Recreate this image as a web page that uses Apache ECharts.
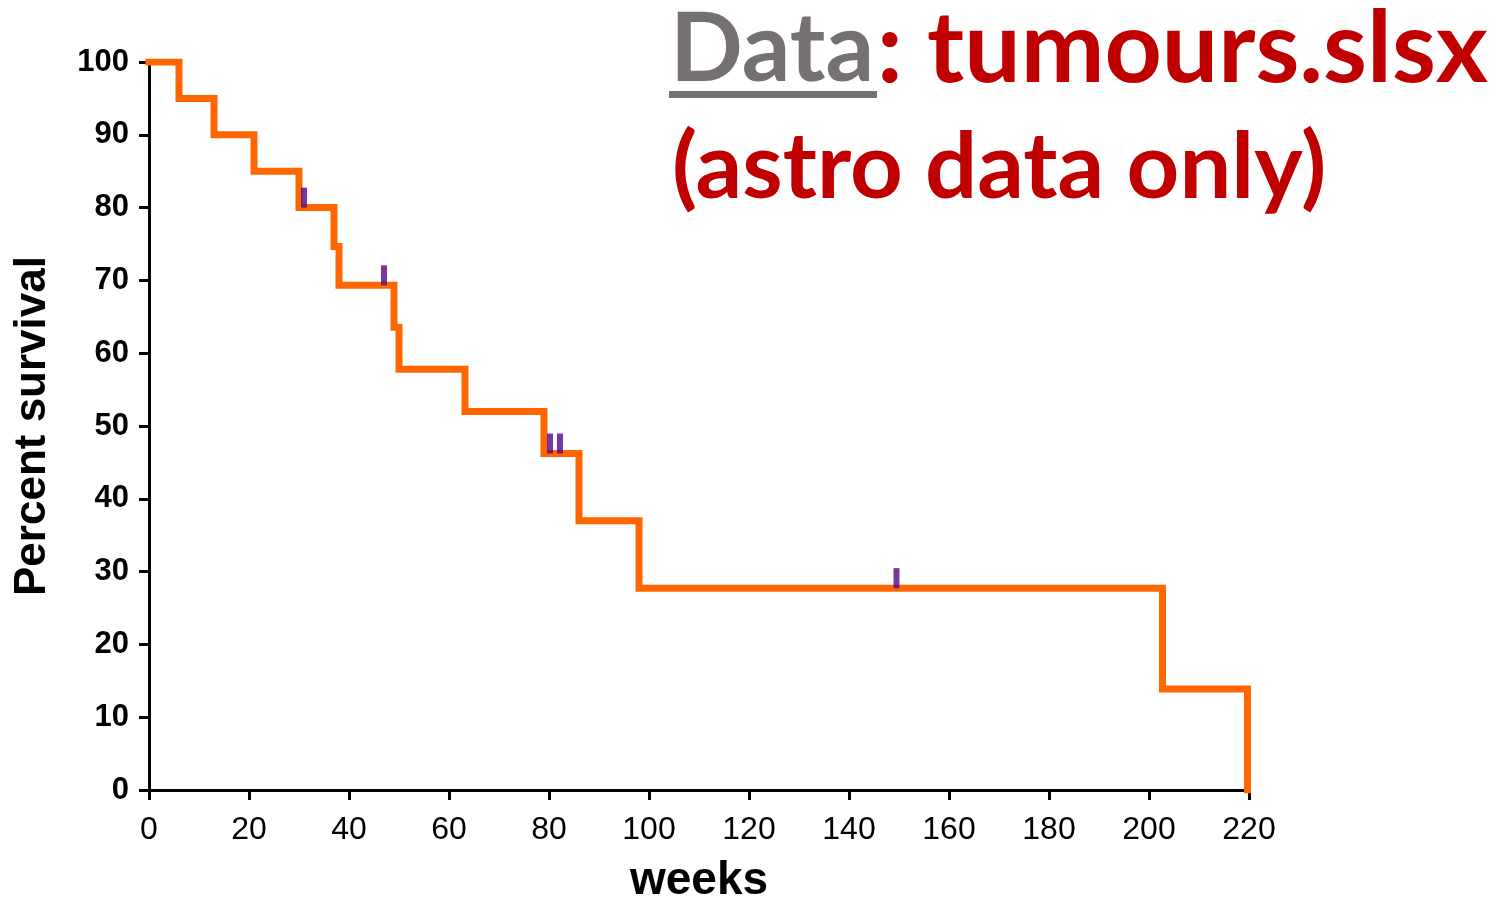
<!DOCTYPE html>
<html>
<head>
<meta charset="utf-8">
<script src="https://cdn.jsdelivr.net/npm/echarts@6/dist/echarts.min.js"></script>
<style>html,body{margin:0;padding:0;background:#fff}#c{width:1508px;height:897px}</style>
</head>
<body>
<div id="c"></div>
<script>
// Kaplan-Meier step points [weeks, percent survival]
const weeks    = [0, 6, 13, 21, 30, 37, 38, 49, 50, 63.2, 79, 86, 98, 202.7, 219.7];
const survival = [100, 95, 90, 85, 80, 74.67, 69.33, 63.56, 57.78, 52.0, 46.22, 36.98, 27.73, 13.87, 0];
// censored observations
const censorWeeks = [31, 47, 80.2, 82.2, 149.5];
const censorSurv  = [80, 69.33, 46.22, 46.22, 27.73];
const xTicks = [0, 20, 40, 60, 80, 100, 120, 140, 160, 180, 200, 220];
const yTicks = [0, 10, 20, 30, 40, 50, 60, 70, 80, 90, 100];

const chart = echarts.init(document.getElementById('c'), null, {renderer: 'canvas'});
const axisFont = 'Liberation Sans, Arial, sans-serif';
chart.setOption({
  animation: false,
  backgroundColor: '#fff',
  grid: {left: 149, right: 259, top: 62, bottom: 107, containLabel: false, outerBoundsMode: 'none'},
  xAxis: {
    type: 'value', min: xTicks[0], max: xTicks[xTicks.length - 1], interval: 20,
    name: 'weeks', nameLocation: 'middle', nameGap: 68,
    nameTextStyle: {fontFamily: axisFont, fontSize: 46, fontWeight: 'bold', color: '#000'},
    axisLine: {lineStyle: {color: '#000', width: 3}},
    axisTick: {show: true, length: 10, lineStyle: {color: '#000', width: 3}},
    axisLabel: {fontFamily: axisFont, fontSize: 32, color: '#000', margin: 24},
    splitLine: {show: false}
  },
  yAxis: {
    type: 'value', min: yTicks[0], max: yTicks[yTicks.length - 1], interval: 10,
    name: 'Percent survival', nameLocation: 'middle', nameGap: 94, nameRotate: 90,
    nameTextStyle: {fontFamily: axisFont, fontSize: 44, fontWeight: 'bold', color: '#000'},
    axisLine: {lineStyle: {color: '#000', width: 3}},
    axisTick: {show: true, length: 10, lineStyle: {color: '#000', width: 3}},
    axisLabel: {fontFamily: axisFont, fontSize: 31, fontWeight: 'bold', color: '#000', margin: 20},
    splitLine: {show: false}
  },
  series: [
    {
      type: 'line', step: 'end', showSymbol: false, symbol: 'none',
      data: weeks.map((w, i) => [w, survival[i]]),
      lineStyle: {color: '#ff6600', width: 7, cap: 'square', join: 'miter'},
      z: 2
    },
    {
      type: 'scatter', symbol: 'rect', symbolSize: [6, 20], symbolOffset: [0, -10],
      data: censorWeeks.map((w, i) => [w, censorSurv[i]]),
      itemStyle: {color: '#55078a'},
      z: 3
    }
  ],
  graphic: [
    {type: 'text', left: 670, top: 2, style: {text: 'Data', fontFamily: 'Lato, sans-serif', fontWeight: 'bold', fontSize: 96, fill: '#767171'}},
    {type: 'rect', shape: {x: 669, y: 91, width: 208, height: 7}, style: {fill: '#767171'}},
    {type: 'text', left: 877, top: 0, style: {text: ': tumours.slsx', fontFamily: 'Lato, sans-serif', fontWeight: 'bold', fontSize: 100, fill: '#c00000'}},
    {type: 'text', left: 672, top: 122, style: {text: '(astro data only)', fontFamily: 'Lato, sans-serif', fontWeight: 'bold', fontSize: 92, fill: '#c00000'}}
  ]
});
</script>
</body>
</html>
